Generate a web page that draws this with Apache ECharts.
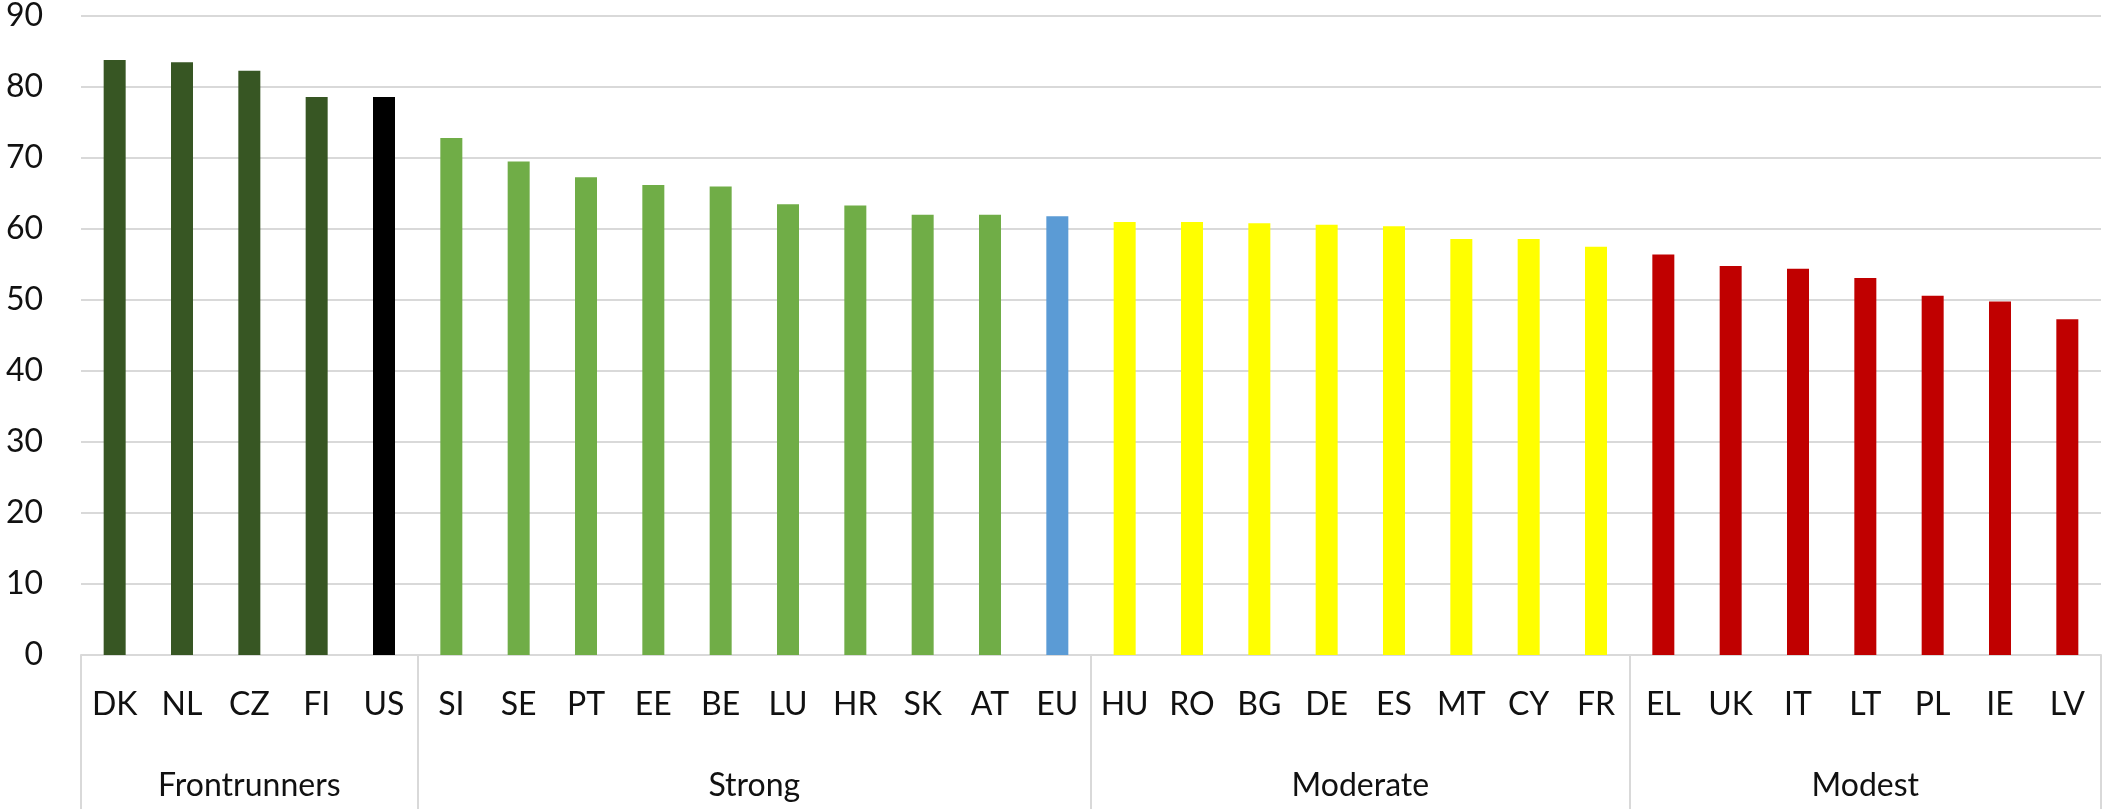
<!DOCTYPE html>
<html>
<head>
<meta charset="utf-8">
<script src="https://cdn.jsdelivr.net/npm/echarts@6/dist/echarts.min.js"></script>
<style>
html,body{margin:0;padding:0;background:#fff;}
#chart{width:2104px;height:809px;}
</style>
</head>
<body>
<div id="chart"></div>
<script>
// ---- data ----
const countries = ['DK','NL','CZ','FI','US','SI','SE','PT','EE','BE','LU','HR','SK','AT','EU','HU','RO','BG','DE','ES','MT','CY','FR','EL','UK','IT','LT','PL','IE','LV'];
const values = [83.8,83.5,82.3,78.6,78.6,72.8,69.5,67.3,66.2,66.0,63.5,63.3,62.0,62.0,61.8,61.0,61.0,60.8,60.6,60.4,58.6,58.6,57.5,56.4,54.8,54.4,53.1,50.6,49.8,47.3];
const groupNames = ['Frontrunners','Strong','Moderate','Modest'];
const groupSizes = [5,10,8,7];
const yTicks = [0,10,20,30,40,50,60,70,80,90];
// colour key for each category
const barColorKey = ['front','front','front','front','us','strong','strong','strong','strong','strong','strong','strong','strong','strong','eu','moderate','moderate','moderate','moderate','moderate','moderate','moderate','moderate','modest','modest','modest','modest','modest','modest','modest'];

const palette = {front:'#375623', us:'#000000', strong:'#70ad47', eu:'#5b9bd5', moderate:'#ffff00', modest:'#c00000'};

// group axis built on half-category points (0..30 step 0.5)
const nHalf = countries.length * 2;
const groupAxisData = new Array(nHalf + 1).fill('');
const boundaryIdx = [0];
let acc = 0;
groupSizes.forEach((s, i) => {
  const centre = acc + s / 2;
  groupAxisData[Math.round(centre * 2)] = groupNames[i];
  acc += s;
  boundaryIdx.push(acc * 2);
});

const font = 'Lato, "Open Sans", sans-serif';
const chart = echarts.init(document.getElementById('chart'));
chart.setOption({
  animation: false,
  backgroundColor: '#ffffff',
  grid: {left: 81, right: 2, top: 16, bottom: 154, containLabel: false},
  xAxis: [
    {
      type: 'category',
      data: countries,
      position: 'bottom',
      axisLine: {show: true, lineStyle: {color: '#d9d9d9', width: 2}},
      axisTick: {show: false},
      axisLabel: {interval: 0, color: '#111111', fontSize: 32, fontFamily: font, margin: 34}
    },
    {
      type: 'category',
      data: groupAxisData,
      boundaryGap: false,
      position: 'bottom',
      axisLine: {show: false},
      axisTick: {show: true, length: 160, interval: (i) => boundaryIdx.indexOf(i) >= 0, lineStyle: {color: '#d9d9d9', width: 2}},
      axisLabel: {interval: 0, color: '#111111', fontSize: 32, fontFamily: font, margin: 115}
    }
  ],
  yAxis: {
    type: 'value',
    min: yTicks[0],
    max: yTicks[yTicks.length - 1],
    interval: 10,
    axisLine: {show: false},
    axisTick: {show: false},
    splitLine: {lineStyle: {color: '#d9d9d9', width: 2}},
    axisLabel: {color: '#111111', fontSize: 32, fontFamily: font, margin: 38}
  },
  series: [{
    type: 'bar',
    xAxisIndex: 0,
    barWidth: 22,
    data: values.map((v, i) => ({value: v, itemStyle: {color: palette[barColorKey[i]]}}))
  }]
});
</script>
</body>
</html>
